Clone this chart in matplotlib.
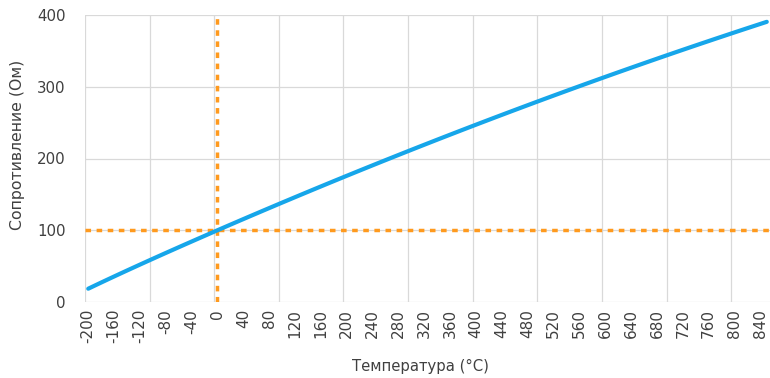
import matplotlib
matplotlib.use('Agg')
import matplotlib.pyplot as plt
import numpy as np

# --- Dados: Pt100, temperatura (°C) e resistência (Ом) ---
temperaturas = list(range(-200, 851, 10))
resistencia = [
    18.52, 22.83, 27.10, 31.34, 35.54, 39.72, 43.88, 48.00, 52.11, 56.19,
    60.26, 64.30, 68.33, 72.33, 76.33, 80.31, 84.27, 88.22, 92.16, 96.09,
    100.00, 103.90, 107.79, 111.67, 115.54, 119.40, 123.24, 127.08, 130.90, 134.71,
    138.51, 142.29, 146.07, 149.83, 153.58, 157.33, 161.05, 164.77, 168.48, 172.17,
    175.86, 179.53, 183.19, 186.84, 190.47, 194.10, 197.71, 201.31, 204.90, 208.48,
    212.05, 215.61, 219.15, 222.68, 226.21, 229.72, 233.21, 236.70, 240.18, 243.64,
    247.09, 250.53, 253.96, 257.38, 260.78, 264.18, 267.56, 270.93, 274.29, 277.64,
    280.98, 284.30, 287.62, 290.92, 294.21, 297.49, 300.75, 304.01, 307.25, 310.49,
    313.71, 316.92, 320.12, 323.30, 326.48, 329.64, 332.79, 335.93, 339.06, 342.18,
    345.28, 348.38, 351.46, 354.53, 357.59, 360.64, 363.67, 366.70, 369.71, 372.71,
    375.70, 378.68, 381.65, 384.60, 387.55, 390.48,
]
ref_temperatura = 0      # linha vertical
ref_resistencia = 100    # linha horizontal
y_ticks = [0, 100, 200, 300, 400]

AZUL = '#16A6EA'
LARANJA = '#FF9A1E'
GRADE = '#D9D9D9'

fig = plt.figure(figsize=(7.7, 3.78), dpi=100)
ax = fig.add_axes([85 / 770, 1 - 302 / 378, 685 / 770, 287 / 378])

# eixo de categorias, como no Excel
idx = np.arange(len(temperaturas))
ax.set_xlim(-0.5, len(temperaturas) - 0.5)
ax.set_ylim(0, 400)

# grade
for k in range(0, len(temperaturas), 10):
    ax.axvline(k - 0.5, color=GRADE, lw=0.9, zorder=0)
for v in y_ticks:
    ax.axhline(v, color=GRADE, lw=0.9, zorder=0)

# linhas de referência
i0 = temperaturas.index(ref_temperatura)
tracejado = (0, (1.6, 1.6))
ax.plot([i0, i0], [0, 400], color=LARANJA, lw=2.5, linestyle=tracejado,
        dash_capstyle='butt', zorder=2)
ax.plot([-0.5, len(temperaturas) - 0.5], [ref_resistencia, ref_resistencia],
        color=LARANJA, lw=2.5, linestyle=tracejado, dash_capstyle='butt', zorder=2)

# curva
ax.plot(idx, resistencia, color=AZUL, lw=3.0, solid_capstyle='round', zorder=3)

# rótulos
lbl_idx = idx[::4]
ax.set_xticks(lbl_idx)
ax.set_xticklabels([str(temperaturas[i]) for i in lbl_idx], rotation=90,
                   fontsize=11, color='#404040',
                   family=['Liberation Sans Narrow', 'DejaVu Sans'])
ax.set_yticks(y_ticks)
ax.set_yticklabels([str(v) for v in y_ticks], fontsize=10.8, color='#404040')
ax.tick_params(axis='both', length=0)
ax.tick_params(axis='y', pad=14)
ax.tick_params(axis='x', pad=5)

for s in ax.spines.values():
    s.set_visible(False)

fig.text(18 / 770, 1 - 145 / 378, 'Сопротивление (Ом)', rotation=90,
         ha='center', va='center', fontsize=11.3, color='#404040')
fig.text(420 / 770, 1 - 366 / 378, 'Температура (°C)', ha='center', va='center',
         fontsize=10.7, color='#404040')

fig.savefig('out.png', dpi=100)
